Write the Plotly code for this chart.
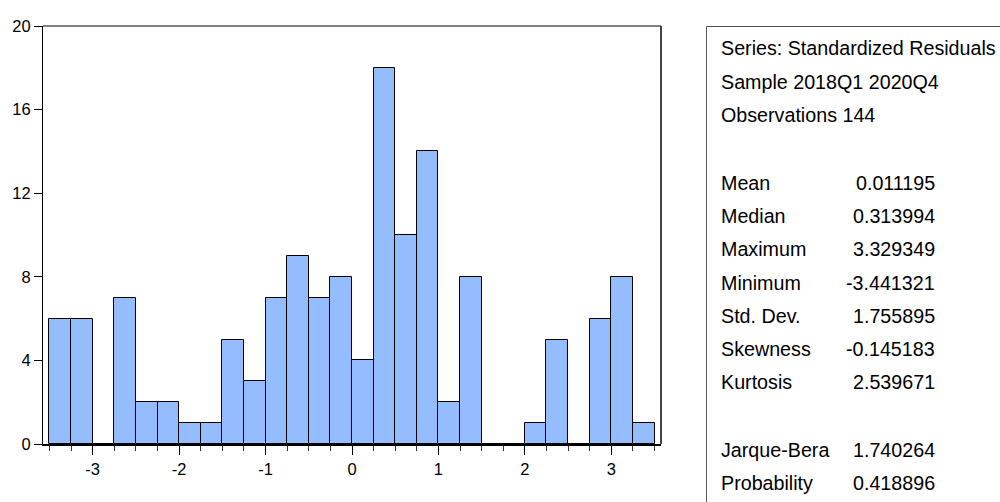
import plotly.graph_objects as go

# ---- data ----
bin_centers = [-3.375, -3.125, -2.875, -2.625, -2.375, -2.125, -1.875, -1.625,
               -1.375, -1.125, -0.875, -0.625, -0.375, -0.125, 0.125, 0.375,
               0.625, 0.875, 1.125, 1.375, 1.625, 1.875, 2.125, 2.375,
               2.625, 2.875, 3.125, 3.375]
counts = [6, 6, 0, 7, 2, 2, 1, 1,
          5, 3, 7, 9, 7, 8, 4, 18,
          10, 14, 2, 8, 0, 0, 1, 5,
          0, 6, 8, 1]
bin_width = 0.25
x_ticks = [-3, -2, -1, 0, 1, 2, 3]
y_ticks = [0, 4, 8, 12, 16, 20]

header_lines = ["Series: Standardized Residuals", "Sample 2018Q1 2020Q4", "Observations 144"]
stat_labels = ["Mean", "Median", "Maximum", "Minimum", "Std. Dev.", "Skewness", "Kurtosis"]
stat_values = ["0.011195", "0.313994", "3.329349", "-3.441321", "1.755895", "-0.145183", "2.539671"]
test_labels = ["Jarque-Bera", "Probability"]
test_values = ["1.740264", "0.418896"]

# ---- layout geometry (pixels) ----
W, H = 1000, 502
L, R, T, B = 43, 661, 26, 444

def px(x):
    return (x - L) / (R - L)

def py(y):
    return (B - y) / (B - T)

FONT = "Liberation Sans, Arial, sans-serif"

fig = go.Figure()
fig.add_trace(go.Bar(
    x=bin_centers, y=counts, width=[bin_width] * len(bin_centers),
    marker=dict(color="#94BDFF", line=dict(color="black", width=1)),
    showlegend=False, hoverinfo="x+y",
))

fig.update_layout(
    width=W, height=H,
    margin=dict(l=L, r=W - R, t=T, b=H - B, pad=0),
    paper_bgcolor="white", plot_bgcolor="white",
    font=dict(family=FONT, size=16, color="black"),
    bargap=0,
    xaxis=dict(
        range=[-3.575, 3.575], tickmode="array", tickvals=x_ticks,
        ticktext=[str(v) for v in x_ticks],
        ticks="outside", ticklen=9, tickwidth=1, tickcolor="black",
        showline=True, linecolor="black", linewidth=2,
        showgrid=False, zeroline=False,
        tickfont=dict(family=FONT, size=16.5, color="black"),
        minor=dict(tickmode="linear", tick0=0, dtick=0.25, ticks="outside",
                   ticklen=5, tickwidth=1, tickcolor="#333", showgrid=False),
    ),
    yaxis=dict(
        range=[0, 20], tickmode="array", tickvals=y_ticks,
        ticks="outside", ticklen=8, tickwidth=1, tickcolor="black",
        showline=True, linecolor="black", linewidth=1,
        showgrid=False, zeroline=False,
        tickfont=dict(family=FONT, size=16.5, color="black"),
    ),
)

# plot frame: top and right edges
fig.add_shape(type="line", xref="paper", yref="paper", x0=0, x1=1, y0=1, y1=1,
              line=dict(color="black", width=1))
fig.add_shape(type="line", xref="paper", yref="paper", x0=1, x1=1, y0=0, y1=1,
              line=dict(color="#444", width=2))

# stats box
fig.add_shape(type="rect", xref="paper", yref="paper",
              x0=px(706.5), x1=px(1010), y0=py(26.5), y1=py(515),
              line=dict(color="#555", width=1), fillcolor="rgba(0,0,0,0)")

SF = 19.7
lx, vx = 719, 937
for i, t in enumerate(header_lines):
    yc = [48, 82, 115][i]
    fig.add_annotation(text=t, x=px(lx), y=py(yc), xref="paper", yref="paper",
                       xanchor="left", yanchor="middle", showarrow=False,
                       font=dict(family=FONT, size=SF, color="black"))
stat_y = [183, 216, 249, 283, 316, 349, 382]
for lab, val, yc in zip(stat_labels, stat_values, stat_y):
    fig.add_annotation(text=lab, x=px(lx), y=py(yc), xref="paper", yref="paper",
                       xanchor="left", yanchor="middle", showarrow=False,
                       font=dict(family=FONT, size=SF, color="black"))
    fig.add_annotation(text=val, x=px(vx), y=py(yc), xref="paper", yref="paper",
                       xanchor="right", yanchor="middle", showarrow=False,
                       font=dict(family=FONT, size=SF, color="black"))
test_y = [450, 483]
for lab, val, yc in zip(test_labels, test_values, test_y):
    fig.add_annotation(text=lab, x=px(lx), y=py(yc), xref="paper", yref="paper",
                       xanchor="left", yanchor="middle", showarrow=False,
                       font=dict(family=FONT, size=SF, color="black"))
    fig.add_annotation(text=val, x=px(vx), y=py(yc), xref="paper", yref="paper",
                       xanchor="right", yanchor="middle", showarrow=False,
                       font=dict(family=FONT, size=SF, color="black"))

fig.write_html("out.html", config={"displayModeBar": False},
               post_script="document.body.style.margin='0';document.body.style.overflow='hidden';")
